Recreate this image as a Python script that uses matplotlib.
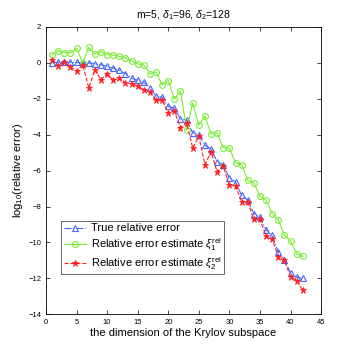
import matplotlib
matplotlib.use("Agg")
import matplotlib.pyplot as plt
import numpy as np

plt.rcParams["font.family"] = ["Liberation Sans", "DejaVu Sans"]
plt.rcParams["mathtext.fontset"] = "custom"
plt.rcParams["mathtext.rm"] = "Liberation Sans"
plt.rcParams["mathtext.it"] = "Liberation Sans:italic"

dims = np.arange(1, 43)

true_err = [0.0, 0.02, 0.02, 0.02, 0.02, 0.0, 0.0, -0.05, -0.1, -0.2,
            -0.3, -0.42, -0.6, -0.85, -0.97, -1.07, -1.4, -1.85, -1.92, -2.43,
            -2.52, -3.12, -3.2, -3.9, -4.02, -4.6, -4.78, -5.52, -5.67, -6.41,
            -6.63, -7.37, -7.65, -8.4, -8.6, -9.3, -9.6, -10.52, -10.95, -11.7,
            -11.92, -12.0]

est_xi1 = [0.44, 0.68, 0.57, 0.55, 0.81, 0.0, 0.86, 0.49, 0.62, 0.46,
           0.44, 0.36, 0.27, 0.12, -0.06, -0.12, -0.6, -0.51, -1.23, -0.99,
           -2.02, -1.56, -3.72, -2.23, -3.47, -2.98, -3.97, -3.89, -4.74, -4.74,
           -5.56, -5.67, -6.54, -6.69, -7.43, -7.63, -8.4, -8.73, -9.6, -9.9,
           -10.62, -10.77]

est_xi2 = [0.17, -0.15, 0.05, -0.24, -0.47, -0.11, -1.39, -0.39, -0.95, -0.6,
           -0.98, -0.83, -1.11, -1.17, -1.3, -1.5, -1.63, -2.09, -2.09, -2.8,
           -2.69, -3.6, -3.35, -4.74, -4.09, -5.67, -4.95, -6.08, -5.75, -6.82,
           -6.85, -7.74, -7.74, -8.72, -8.72, -9.63, -9.8, -10.8, -11.0, -11.9,
           -12.13, -12.65]

fig = plt.figure(figsize=(3.54, 3.54), dpi=100)
ax = fig.add_axes([0.13, 0.112, 0.777, 0.812])

ax.plot(dims, true_err, "-.", color="#4466ff", linewidth=0.8, marker="^",
        markersize=5, markerfacecolor="none", markeredgewidth=0.8,
        label="True relative error")
ax.plot(dims, est_xi1, "-", color="#77ee33", linewidth=0.8, marker="o",
        markersize=4.2, markerfacecolor="none", markeredgewidth=0.8,
        label=r"Relative error estimate $\xi_1^{\rm rel}$")
ax.plot(dims, est_xi2, "--", color="#ff2020", linewidth=0.8, marker="*",
        markersize=5, markeredgewidth=0.6,
        label=r"Relative error estimate $\xi_2^{\rm rel}$")

ax.set_xlim(0, 45)
ax.set_ylim(-14, 2)
ax.set_xticks(range(0, 46, 5))
ax.set_yticks(range(-14, 3, 2))
ax.tick_params(direction="in", top=True, right=True, labelsize=5.5,
               length=3, width=0.5)
for s in ax.spines.values():
    s.set_linewidth(0.6)

ax.set_xlabel("the dimension of the Krylov subspace", fontsize=8, labelpad=1)
ax.set_ylabel(r"log$_{10}$(relative error)", fontsize=8, labelpad=2)
ax.set_title(r"m=5, $\delta_1$=96, $\delta_2$=128", fontsize=7.5, pad=6)

leg = ax.legend(loc="lower left", bbox_to_anchor=(0.035, 0.12), fontsize=8,
                fancybox=False, edgecolor="0.3", framealpha=1,
                handlelength=2.0, handletextpad=0.4, borderpad=0.25,
                labelspacing=0.2)
leg.get_frame().set_linewidth(0.6)

fig.savefig("out.png", dpi=100)
